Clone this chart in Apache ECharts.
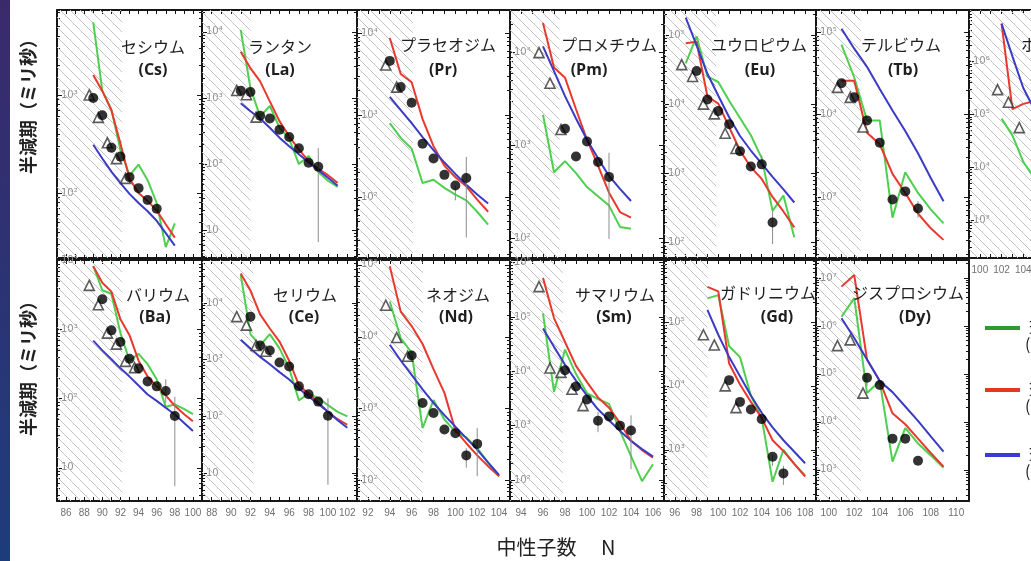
<!DOCTYPE html>
<html><head><meta charset="utf-8">
<script src="https://cdn.jsdelivr.net/npm/echarts/dist/echarts.min.js"></script>
<style>html,body{margin:0;padding:0;background:#fff}#c{width:1031px;height:561px}</style>
</head><body><div id="c"></div>
<script>
// ---------- DATA (N, half-life in ms) ----------
const csGreen=[[89,5500],[90,1100],[91,710],[92,275],[93,151],[94,195],[95,135],[96,79],[97,28],[98,49]];
const csRed=[[89,1600],[90,1100],[91,700],[92,320],[93,140],[94,100],[95,83],[96,66],[97,48],[98,35]];
const csBlue=[[89,310],[90,225],[91,165],[92,126],[93,98],[94,79],[95,65],[96,52],[97,39],[98,29]];
const csCircle=[[89,930],[90,620],[91,290],[92,235],[93,145],[94,112],[95,85],[96,69]];
const csTri=[[89,1000],[90,590],[91,325],[92,224],[93,141]];
const csErr=[];

const laGreen=[[91,10700],[92,1410],[93,525],[94,760],[95,355],[96,240],[97,100],[98,132],[99,76],[100,56],[101,45]];
const laRed=[[91,5000],[92,2820],[93,1780],[94,890],[95,447],[96,263],[97,166],[98,112],[99,85],[100,68],[101,52]];
const laBlue=[[91,832],[92,631],[93,490],[94,355],[95,251],[96,186],[97,141],[98,107],[99,81],[100,62],[101,47]];
const laCircle=[[91,1290],[92,1230],[93,537],[94,490],[95,331],[96,257],[97,174],[98,105],[99,91]];
const laTri=[[91,1300],[92,1120],[93,513]];
const laErr=[[99,6.6,174]];

const prGreen=[[94,794],[95,525],[96,389],[97,148],[98,162],[99,129],[100,107],[101,91],[102,66],[103,46]];
const prRed=[[94,8710],[95,3160],[96,2510],[97,891],[98,417],[99,240],[100,174],[101,135],[102,93],[103,66]];
const prBlue=[[94,1660],[95,1150],[96,794],[97,537],[98,372],[99,263],[100,191],[101,141],[102,107],[103,83]];
const prCircle=[[94,4570],[95,2190],[96,1410],[97,447],[98,295],[99,186],[100,138],[101,170]];
const prTri=[[94,4070],[95,2190]];
const prErr=[[100,91,138],[101,32,309]];

const pmGreen=[[96,2140],[97,513],[98,676],[99,501],[100,355],[101,282],[102,224],[103,132],[104,126]];
const pmRed=[[96,20900],[97,6920],[98,5370],[99,2450],[100,1150],[101,603],[102,309],[103,191],[104,166]];
const pmBlue=[[96,11700],[97,6310],[98,3390],[99,1950],[100,1150],[101,724],[102,468],[103,339],[104,251]];
const pmCircle=[[98,1510],[99,759],[100,1100],[101,661],[102,457]];
const pmTri=[[96,10000],[97,4680],[98,1480]];
const pmErr=[[102,98,832]];

const euGreen=[[97,38900],[98,95500],[99,25100],[100,20900],[101,11200],[102,6310],[103,3550],[104,1660],[105,288],[106,479],[107,120]];
const euRed=[[97,75900],[98,79400],[99,12900],[100,10200],[101,4680],[102,2140],[103,1230],[104,832],[105,457],[106,282],[107,166]];
const euBlue=[[97,178000],[98,70800],[99,27500],[100,13200],[101,6460],[102,3470],[103,2140],[104,1380],[105,891],[106,589],[107,380]];
const euCircle=[[98,30200],[99,11700],[100,7940],[101,5130],[102,2090],[103,1260],[104,1350],[105,195]];
const euTri=[[97,37200],[98,25100],[99,10000],[100,7240],[101,3800],[102,2290]];
const euErr=[[104,1350,1820],[105,95,288]];

const tbGreen=[[101,70800],[102,28200],[103,8510],[104,8510],[105,562],[106,2000],[107,1120],[108,708],[109,479]];
const tbRed=[[101,25700],[102,25700],[103,6030],[104,4370],[105,1910],[106,1120],[107,631],[108,417],[109,302]];
const tbBlue=[[101,110000],[102,63100],[103,38000],[104,20400],[105,11200],[106,6310],[107,3390],[108,1700],[109,891]];
const tbCircle=[[101,24000],[102,16200],[103,8510],[104,4570],[105,933],[106,1170],[107,724]];
const tbTri=[[101,21400],[102,16200],[103,7080]];
const tbErr=[[107,562,891]];

const hoGreen=[[102,83000],[103,40000],[104,12600],[105,6300]];
const hoRed=[[102,5250000],[103,126000],[104,158000],[105,178000]];
const hoBlue=[[102,5250000],[103,1260000],[104,316000],[105,126000]];
const hoCircle=[];
const hoTri=[[102,295000],[103,170000],[104,56200]];
const hoErr=[];

const baGreen=[[89,8320],[90,3720],[91,3310],[92,891],[93,355],[94,447],[95,316],[96,191],[97,76],[98,83],[99,71],[100,60]];
const baRed=[[89,8320],[90,4790],[91,3550],[92,1410],[93,832],[94,355],[95,209],[96,151],[97,112],[98,79],[99,60],[100,47]];
const baBlue=[[89,692],[90,501],[91,372],[92,275],[93,209],[94,155],[95,115],[96,93],[97,74],[98,59],[99,45],[100,34]];
const baCircle=[[90,2750],[91,977],[92,661],[93,380],[94,275],[95,178],[96,151],[97,129],[98,56]];
const baTri=[[89,4370],[90,2290],[91,891],[92,617],[93,347],[94,282]];
const baErr=[[97,87,191],[98,5.4,107]];

const ceGreen=[[91,31600],[92,2820],[93,1780],[94,2820],[95,1580],[96,708],[97,191],[98,251],[99,209],[100,158],[101,120],[102,100]];
const ceRed=[[91,33100],[92,16600],[93,6310],[94,3550],[95,2090],[96,955],[97,355],[98,251],[99,178],[100,120],[101,89],[102,71]];
const ceBlue=[[91,2240],[92,1580],[93,1120],[94,832],[95,603],[96,447],[97,309],[98,224],[99,166],[100,120],[101,85],[102,63]];
const ceCircle=[[92,5750],[93,1780],[94,1450],[95,891],[96,759],[97,339],[98,245],[99,182],[100,102]];
const ceTri=[[91,5750],[92,4070],[93,1780],[94,1410]];
const ceErr=[[100,6.2,209]];

const ndGreen=[[94,30900],[95,9550],[96,6030],[97,537],[98,1320],[99,708],[100,479],[101,398],[102,282],[103,178],[104,115]];
const ndRed=[[94,95500],[95,22400],[96,14100],[97,7940],[98,3550],[99,1660],[100,501],[101,331],[102,224],[103,158],[104,115]];
const ndBlue=[[94,7760],[95,4680],[96,2950],[97,1860],[98,1200],[99,813],[100,562],[101,389],[102,269],[103,178],[104,120]];
const ndCircle=[[96,5500],[97,1200],[98,871],[99,513],[100,457],[101,224],[102,324]];
const ndTri=[[94,27500],[95,9770],[96,5370]];
const ndErr=[[96,4470,6310],[101,151,282],[102,115,537]];

const smGreen=[[96,117000],[97,4170],[98,25100],[99,8910],[100,3980],[101,3090],[102,2510],[103,800],[104,275],[105,95],[106,195]];
const smRed=[[96,525000],[97,95500],[98,34700],[99,12600],[100,6310],[101,3310],[102,2140],[103,1120],[104,525],[105,355],[106,257]];
const smBlue=[[96,61700],[97,28200],[98,13200],[99,6760],[100,3550],[101,2000],[102,1260],[103,794],[104,525],[105,372],[106,269]];
const smCircle=[[98,10500],[99,5250],[100,3020],[101,1230],[102,1480],[103,1000],[104,813]];
const smTri=[[96,363000],[97,11500],[98,9550],[99,4680],[100,2340]];
const smErr=[[101,759,1780],[104,158,1550]];

const gdGreen=[[99,234000],[100,263000],[101,41700],[102,28200],[103,7080],[104,3160],[105,316],[106,1000],[107,603],[108,398]];
const gdRed=[[99,355000],[100,302000],[101,22400],[102,10500],[103,5620],[104,3160],[105,1410],[106,955],[107,603],[108,380]];
const gdBlue=[[99,155000],[100,63100],[101,28200],[102,14100],[103,7080],[104,3800],[105,2240],[106,1410],[107,933],[108,617]];
const gdCircle=[[101,12300],[102,5620],[103,4270],[104,3020],[105,776],[106,427]];
const gdTri=[[99,63100],[100,43700],[101,10000],[102,4570]];
const gdErr=[[105,562,832],[106,282,562]];

const dyGreen=[[101,1550000],[102,3800000],[103,39800],[104,70800],[105,1480],[106,7410],[107,3550],[108,2000],[109,1100]];
const dyRed=[[101,6600000],[102,11500000],[103,200000],[104,70800],[105,15100],[106,8910],[107,4470],[108,2240],[109,1170]];
const dyBlue=[[101,1450000],[102,562000],[103,200000],[104,70800],[105,41700],[106,20900],[107,10500],[108,5010],[109,2400]];
const dyCircle=[[103,83200],[104,58900],[105,4470],[106,4470],[107,1550]];
const dyTri=[[101,389000],[102,513000],[103,39800]];
const dyErr=[[103,56200,100000]];

const elementNames=['セシウム','ランタン','プラセオジム','プロメチウム','ユウロピウム','テルビウム','ホルミウム','バリウム','セリウム','ネオジム','サマリウム','ガドリニウム','ジスプロシウム'];
const elementSymbols=['(Cs)','(La)','(Pr)','(Pm)','(Eu)','(Tb)','(Ho)','(Ba)','(Ce)','(Nd)','(Sm)','(Gd)','(Dy)'];
const nRange=[[85,101],[87,103],[91,105],[93,107],[95,109],[99,111],[99,113],[85,101],[87,103],[91,105],[93,107],[95,109],[99,111]];
const hatchEnd=[92.2,92,96.1,97.5,99.8,102.5,108,92.2,92.3,97,97.8,99,102.5];
const yRange=[[21.7,7360],[3.8,21400],[18,19100],[61,28800],[60,229000],[182,186000],[190,9.5e6],[3.3,10200],[3.2,57500],[52,117000],[41,1.12e6],[158,933000],[224,2.37e7]];
const legendNames=['理論計算','理論計算','理論計算'];
const legendSub=['(FRDM+QRPA)','(KTUY+GT2)','(RHB+RQRPA)'];
const xTitle='中性子数　 N';
const yTitle='半減期（ミリ秒）';

const seriesSets=[
 [csGreen,csRed,csBlue,csCircle,csTri,csErr],
 [laGreen,laRed,laBlue,laCircle,laTri,laErr],
 [prGreen,prRed,prBlue,prCircle,prTri,prErr],
 [pmGreen,pmRed,pmBlue,pmCircle,pmTri,pmErr],
 [euGreen,euRed,euBlue,euCircle,euTri,euErr],
 [tbGreen,tbRed,tbBlue,tbCircle,tbTri,tbErr],
 [hoGreen,hoRed,hoBlue,hoCircle,hoTri,hoErr],
 [baGreen,baRed,baBlue,baCircle,baTri,baErr],
 [ceGreen,ceRed,ceBlue,ceCircle,ceTri,ceErr],
 [ndGreen,ndRed,ndBlue,ndCircle,ndTri,ndErr],
 [smGreen,smRed,smBlue,smCircle,smTri,smErr],
 [gdGreen,gdRed,gdBlue,gdCircle,gdTri,gdErr],
 [dyGreen,dyRed,dyBlue,dyCircle,dyTri,dyErr]
];

// ---------- LAYOUT / STYLE ----------
const boxes=[[57,10,145,248],[202,10,155,248],[357,10,153,248],[510,10,154,248],[664,10,152,248],[816,10,153,248],[969,10,152,248],
             [57,260,145,241],[202,260,155,241],[357,260,153,241],[510,260,154,241],[664,260,152,241],[816,260,153,241]];
const showXLabels=[false,false,false,false,false,false,true,true,true,true,true,true,true];
const namePos=[[153,47],[280,47],[448,45],[609,45],[759,45],[901,45],[1061,45],[158,295],[305,295],[458,295],[615,295],[768,293],[908,293]];
const symX=[153,280,443,589,760,903,1061,155,304,456,614,777,915];
const GREEN='#4fcf4f',RED='#e8392e',BLUE='#3b3bc6',FRAME='#161616';

const hatch=(function(){const n=10;const c=document.createElement('canvas');c.width=n;c.height=n;const g=c.getContext('2d');
 g.strokeStyle='#c3c3c3';g.lineWidth=1;g.beginPath();g.moveTo(0,0);g.lineTo(n,n);g.moveTo(-2,n-2);g.lineTo(2,n+2);g.moveTo(n-2,-2);g.lineTo(n+2,2);g.stroke();return c;})();

const SUP={0:'⁰',1:'¹',2:'²',3:'³',4:'⁴',5:'⁵',6:'⁶',7:'⁷',8:'⁸',9:'⁹'};
function logFmt(v){const l=Math.log10(v);const e=Math.round(l);if(Math.abs(l-e)>1e-6)return '';return e===1?'10':'10'+SUP[e];}

const grid=[],xAxis=[],yAxis=[],series=[],graphic=[];
boxes.forEach((b,i)=>{
  grid.push({left:b[0],top:b[1],width:b[2],height:b[3],containLabel:false,outerBoundsMode:'none'});
  const xr=nRange[i],yr=yRange[i];
  const xb={gridIndex:i,type:'value',min:xr[0],max:xr[1],interval:1,splitLine:{show:false},
    axisLine:{show:true,onZero:false,lineStyle:{color:FRAME,width:2}},
    axisTick:{show:true,inside:true,length:4,lineStyle:{color:FRAME,width:1}}};
  xAxis.push(Object.assign({},xb,{position:'bottom',axisLabel:{show:showXLabels[i],margin:7,color:'#707070',fontSize:10,fontFamily:'Liberation Sans',
     formatter:v=>(Math.round(v)%2===0?String(Math.round(v)):'')}}));
  xAxis.push(Object.assign({},xb,{position:'top',axisLabel:{show:false}}));
  const yb={gridIndex:i,type:'log',logBase:10,min:yr[0],max:yr[1],splitLine:{show:false},
    axisLine:{show:true,onZero:false,lineStyle:{color:FRAME,width:2}},
    axisTick:{show:true,inside:true,length:5,lineStyle:{color:FRAME,width:1}},
    minorTick:{show:true,splitNumber:9,length:3,lineStyle:{color:FRAME,width:1}},minorSplitLine:{show:false}};
  yAxis.push(Object.assign({},yb,{position:'left',axisLabel:{show:true,inside:true,margin:4,color:'#8e8e8e',fontSize:10,fontFamily:'DejaVu Sans',formatter:logFmt}}));
  yAxis.push(Object.assign({},yb,{position:'right',axisLabel:{show:false}}));
  const xi=2*i,yi=2*i;
  const s=seriesSets[i];
  series.push({type:'line',xAxisIndex:xi,yAxisIndex:yi,data:[],silent:true,z:1,
    markArea:{silent:true,itemStyle:{color:{image:hatch,repeat:'repeat'},opacity:1},data:[[{xAxis:xr[0]},{xAxis:hatchEnd[i]}]]}});
  [[s[0],GREEN,'G'],[s[1],RED,'R'],[s[2],BLUE,'B']].forEach(([d,col,nm])=>{
    series.push({type:'line',name:nm,xAxisIndex:xi,yAxisIndex:yi,data:d,symbol:'none',showSymbol:false,color:col,
      lineStyle:{color:col,width:2},z:2,clip:true,silent:true});
  });
  if(s[5].length) series.push({type:'custom',xAxisIndex:xi,yAxisIndex:yi,data:s[5],encode:{x:0,y:[1,2]},z:3,clip:true,silent:true,
    renderItem:(p,api)=>{const a=api.coord([api.value(0),api.value(1)]),c=api.coord([api.value(0),api.value(2)]);
      return {type:'line',shape:{x1:a[0],y1:a[1],x2:c[0],y2:c[1]},style:{stroke:'#8c8c8c',lineWidth:1}};}});
  if(s[4].length) series.push({type:'scatter',xAxisIndex:xi,yAxisIndex:yi,data:s[4],symbol:'triangle',symbolSize:10,symbolOffset:[-4,0],z:4,silent:true,
    itemStyle:{color:'rgba(255,255,255,0.85)',borderColor:'#333',borderWidth:1.6}});
  if(s[3].length) series.push({type:'scatter',xAxisIndex:xi,yAxisIndex:yi,data:s[3],symbol:'circle',symbolSize:10,z:5,silent:true,
    itemStyle:{color:'#000000'}});
  const top=i<7;
  graphic.push({type:'text',x:namePos[i][0],y:namePos[i][1],z:50,style:{text:elementNames[i],font:'16px "Noto Sans CJK JP"',fill:'#1e1e1e',
    textAlign:'center',textVerticalAlign:'middle',align:'center',verticalAlign:'middle'}});
  graphic.push({type:'text',x:symX[i],y:top?70:317,z:50,style:{text:elementSymbols[i],font:'bold 16px "Open Sans"',fill:'#1e1e1e',
    textAlign:'center',textVerticalAlign:'middle',align:'center',verticalAlign:'middle'}});
});

graphic.push({type:'rect',shape:{x:0,y:0,width:10,height:561},z:60,style:{fill:{type:'linear',x:0,y:0,x2:0,y2:1,colorStops:[{offset:0,color:'#3a2a6c'},{offset:1,color:'#1e3c7c'}]}}});
[102,364].forEach(cy=>graphic.push({type:'text',x:28,y:cy,rotation:Math.PI/2,z:50,style:{text:yTitle,font:'bold 18px "Noto Sans CJK JP"',fill:'#222',
  textAlign:'center',textVerticalAlign:'middle',align:'center',verticalAlign:'middle'}}));
graphic.push({type:'text',x:556,y:547,z:50,style:{text:xTitle,font:'20px "Noto Sans CJK JP"',fill:'#222',
  textAlign:'center',textVerticalAlign:'middle',align:'center',verticalAlign:'middle'}});
const legTop=[326,388,453];
legendSub.forEach((t,k)=>graphic.push({type:'text',x:1025,y:legTop[k]+18,z:50,style:{text:t,font:'16px "Noto Sans CJK JP"',fill:'#222',
  textAlign:'left',textVerticalAlign:'middle',align:'left',verticalAlign:'middle'}}));

const legColors=['#2f9a2f','#e23a22','#3b3bd0'];
const legend=['G','R','B'].map((nm,k)=>({show:true,orient:'vertical',left:980,top:legTop[k]-11,itemWidth:35,itemHeight:4,selectedMode:false,
  data:[{name:nm,icon:'rect',itemStyle:{color:legColors[k]}}],formatter:()=>legendNames[k],
  textStyle:{fontSize:16,color:'#222',fontFamily:'Noto Sans CJK JP',padding:[0,0,0,4]}}));

const chart=echarts.init(document.getElementById('c'),null,{renderer:'canvas',width:1031,height:561});
chart.setOption({animation:false,backgroundColor:'#ffffff',grid,xAxis,yAxis,series,graphic,legend});
</script></body></html>
